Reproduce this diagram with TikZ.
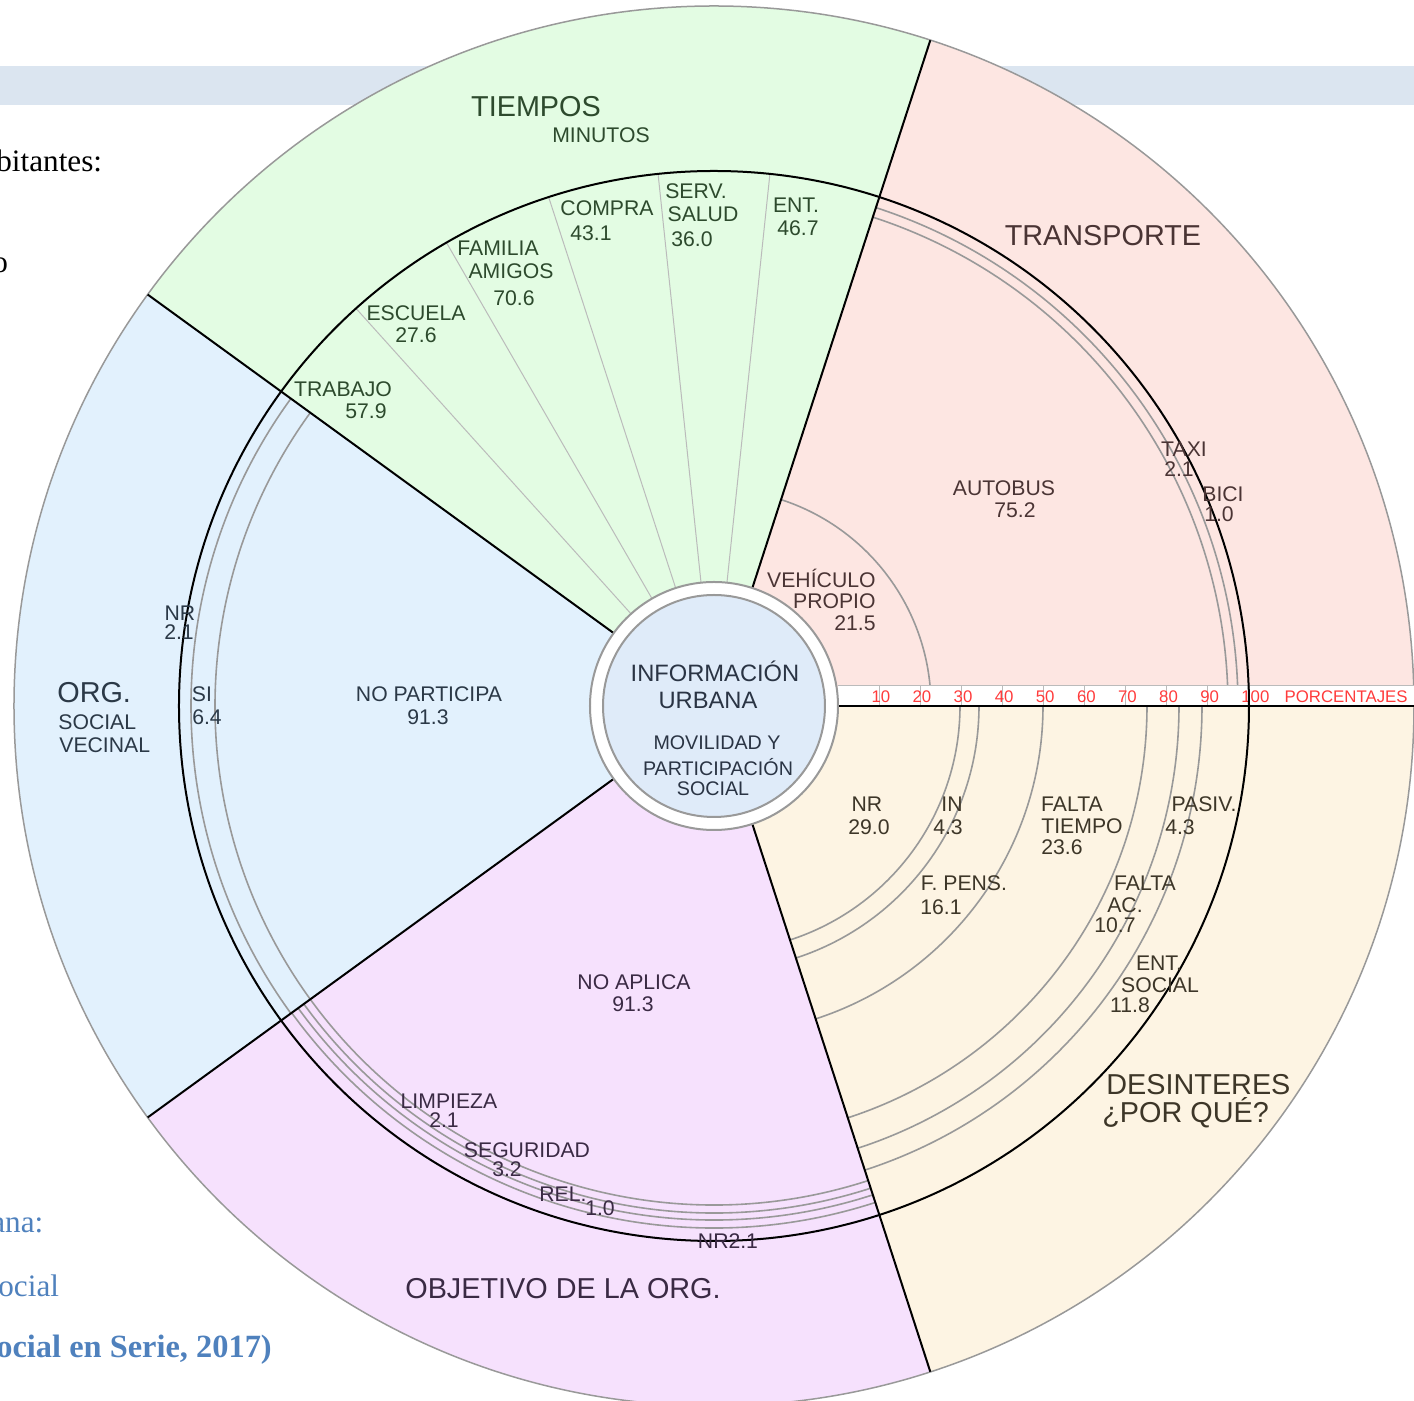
\documentclass[tikz,border=0pt]{standalone}
\usepackage{fontspec}
\setmainfont{Liberation Sans}
\newfontfamily\docserif{Liberation Serif}
\usepackage{tikz}

\definecolor{transporte}{HTML}{FDE6E2}
\definecolor{tiempos}{HTML}{E3FCE3}
\definecolor{orgsocial}{HTML}{E2F1FD}
\definecolor{objetivo}{HTML}{F6E1FD}
\definecolor{desinteres}{HTML}{FDF4E3}
\definecolor{centro}{HTML}{DFEBF9}
\definecolor{banda}{HTML}{DBE5F0}
\definecolor{docblue}{HTML}{4F81BD}
\definecolor{ringgray}{HTML}{999999}
\definecolor{spokegray}{HTML}{BBBBBB}
\definecolor{scalered}{HTML}{FF3B3B}
\definecolor{txtgreen}{HTML}{2D4A2D}
\definecolor{txtpink}{HTML}{4A3434}
\definecolor{txtblue}{HTML}{2B3947}
\definecolor{txtpurple}{HTML}{3A2A44}
\definecolor{txtbeige}{HTML}{3D3628}
\definecolor{txtcenter}{HTML}{2A3444}

\begin{document}
\begin{tikzpicture}[x=0.5pt, y=0.5pt,
    lbl/.style={inner sep=0pt, font=\fontsize{10.6}{12}\selectfont},
    big/.style={inner sep=0pt, font=\fontsize{14.4}{17}\selectfont},
    doc/.style={inner sep=0pt, anchor=base west, font=\docserif\fontsize{15.6}{18}\selectfont},
    ring/.style={draw=ringgray, line width=0.8pt},
    spoke/.style={draw=spokegray, line width=0.5pt},
    sep/.style={draw=black, line width=1pt},
    scalelbl/.style={inner sep=0pt, anchor=west, text=scalered, font=\fontsize{8.4}{9}\selectfont}]

\useasboundingbox (-714,-695) rectangle (700,706);
\clip (-714,-695) rectangle (700,706);

% page behind the chart
\fill[banda] (-714,601) rectangle (700,640);
\path (-718,534) node[doc] (habit) {bitantes:}
      (-722,433) node[doc] (frag) {o};
\path[docblue] (-723,-527) node[doc] (urbana) {ana:}
      (-716,-591) node[doc] (social) {ocial}
      (-718,-652) node[doc, font=\docserif\bfseries\fontsize{16.2}{18}\selectfont] (serie) {ocial en Serie, 2017)};

% sectors
\foreach \a/\c in {0/transporte, 72/tiempos, 144/orgsocial, 216/objetivo, 288/desinteres}
  \fill[\c] (0,0) -- (\a:700) arc[start angle=\a, delta angle=72, radius=700] -- cycle;
\draw[ringgray, line width=0.75pt] (0,0) circle (700);

% rings and spokes
\foreach \r in {217,514,524}
  \draw[ring] (0:\r) arc[start angle=0, end angle=72, radius=\r];
\foreach \a in {84,96,108,120,132}
  \draw[spoke] (\a:124) -- (\a:535);
\foreach \r in {499,523}
  \draw[ring] (144:\r) arc[start angle=144, end angle=216, radius=\r];
\foreach \r in {499,507,514,522}
  \draw[ring] (216:\r) arc[start angle=216, end angle=288, radius=\r];
\foreach \r in {246,265,329,433,465,488}
  \draw[ring] (288:\r) arc[start angle=288, end angle=360, radius=\r];

% percentage strip
\fill[white] (124,0) rectangle (700,20);
\draw[spoke] (124,20) -- (700,20);
\foreach \p in {1,...,10} {
  \draw[spoke] ({124+41.1*\p},0) -- ++(0,20);
  \node[scalelbl] (s\p) at ({124+41.1*\p-8},9) {\the\numexpr\p*10\relax};
}
\node[scalelbl, anchor=east] (porcentajes) at (694,9) {PORCENTAJES};

% borders
\draw[sep] (0,0) circle (535);
\foreach \a in {0,72,144,216,288}
  \draw[sep] (\a:124) -- (\a:700);

% hub
\draw[ringgray, line width=1pt, fill=white] (0,0) circle (124);
\draw[ringgray, line width=1pt, fill=centro] (0,0) circle (111);
\path[txtcenter] (1,35) node[inner sep=0pt, font=\fontsize{11.85}{13}\selectfont] (info) {INFORMACIÓN}
  (-6,6) node[inner sep=0pt, font=\fontsize{11.85}{13}\selectfont] (urb) {URBANA}
  (3,-37) node[inner sep=0pt, font=\fontsize{9.85}{11}\selectfont] (movil) {MOVILIDAD Y}
  (4,-61) node[inner sep=0pt, font=\fontsize{9.85}{11}\selectfont] (partic) {PARTICIPACIÓN}
  (-1,-83) node[inner sep=0pt, font=\fontsize{9.85}{11}\selectfont] (socc) {SOCIAL};

% TIEMPOS
\path[txtgreen] (-178,599) node[big] (tiem) {TIEMPOS}
  (-113,571) node[lbl] (minutos) {MINUTOS}
  (-371,317) node[lbl] (trabajo) {TRABAJO}
  (-348,295) node[lbl] (trabajov) {57.9}
  (-298,393) node[lbl] (escuela) {ESCUELA}
  (-298,371) node[lbl] (escuelav) {27.6}
  (-216,458) node[lbl] (familia) {FAMILIA}
  (-203,435) node[lbl] (amigos) {AMIGOS}
  (-200,408) node[lbl] (familiav) {70.6}
  (-107,498) node[lbl] (compra) {COMPRA}
  (-123,473) node[lbl] (comprav) {43.1}
  (-18,515) node[lbl] (serv) {SERV.}
  (-11,492) node[lbl] (salud) {SALUD}
  (-22,467) node[lbl] (saludv) {36.0}
  (82,501) node[lbl] (ent) {ENT.}
  (84,478) node[lbl] (entv) {46.7};

% TRANSPORTE
\path[txtpink] (389,470) node[big] (transp) {TRANSPORTE}
  (290,218) node[lbl] (autobus) {AUTOBUS}
  (301,196) node[lbl] (autobusv) {75.2}
  (470,257) node[lbl] (taxi) {TAXI}
  (465,237) node[lbl] (taxiv) {2.1}
  (509,212) node[lbl] (bici) {BICI}
  (505,192) node[lbl] (biciv) {1.0}
  (162,128) node[lbl, anchor=east] (vehic) {VEHÍCULO}
  (162,105) node[lbl, anchor=east] (propio) {PROPIO}
  (162,83) node[lbl, anchor=east] (propiov) {21.5};

% ORG. SOCIAL VECINAL
\path[txtblue] (-657,13) node[big, anchor=west] (org) {ORG.}
  (-656,-16) node[lbl, anchor=west] (orgsoc) {SOCIAL}
  (-655,-39) node[lbl, anchor=west] (vecinal) {VECINAL}
  (-534,93) node[lbl] (orgnr) {NR}
  (-535,74) node[lbl] (orgnrv) {2.1}
  (-512,12) node[lbl] (si) {SI}
  (-507,-11) node[lbl] (siv) {6.4}
  (-285,12) node[lbl] (nopart) {NO PARTICIPA}
  (-286,-11) node[lbl] (nopartv) {91.3};

% OBJETIVO DE LA ORG.
\path[txtpurple] (-151,-583) node[big] (objet) {OBJETIVO DE LA ORG.}
  (-80,-276) node[lbl] (noaplica) {NO APLICA}
  (-81,-298) node[lbl] (noaplicav) {91.3}
  (-265,-395) node[lbl] (limpieza) {LIMPIEZA}
  (-270,-414) node[lbl] (limpiezav) {2.1}
  (-187,-444) node[lbl] (seguridad) {SEGURIDAD}
  (-207,-463) node[lbl] (seguridadv) {3.2}
  (-151,-488) node[lbl] (rel) {REL.}
  (-114,-502) node[lbl] (relv) {1.0}
  (14,-535) node[lbl] (objnr) {NR2.1};

% DESINTERES
\path[txtbeige] (392,-379) node[big, anchor=west] (desint) {DESINTERES}
  (388,-407) node[big, anchor=west] (porque) {¿POR QUÉ?}
  (153,-98) node[lbl] (desnr) {NR}
  (155,-121) node[lbl] (desnrv) {29.0}
  (238,-98) node[lbl] (inn) {IN}
  (234,-121) node[lbl] (innv) {4.3}
  (250,-177) node[lbl] (fpens) {F. PENS.}
  (227,-201) node[lbl] (fpensv) {16.1}
  (358,-98) node[lbl] (faltat) {FALTA}
  (368,-120) node[lbl] (tiempo) {TIEMPO}
  (348,-141) node[lbl] (tiempov) {23.6}
  (490,-98) node[lbl] (pasiv) {PASIV.}
  (466,-121) node[lbl] (pasivv) {4.3}
  (431,-177) node[lbl] (faltaa) {FALTA}
  (411,-199) node[lbl] (ac) {AC.}
  (401,-219) node[lbl] (acv) {10.7}
  (445,-257) node[lbl] (entsoc) {ENT.}
  (446,-279) node[lbl] (socent) {SOCIAL}
  (416,-299) node[lbl] (entsocv) {11.8};
\end{tikzpicture}
\end{document}
